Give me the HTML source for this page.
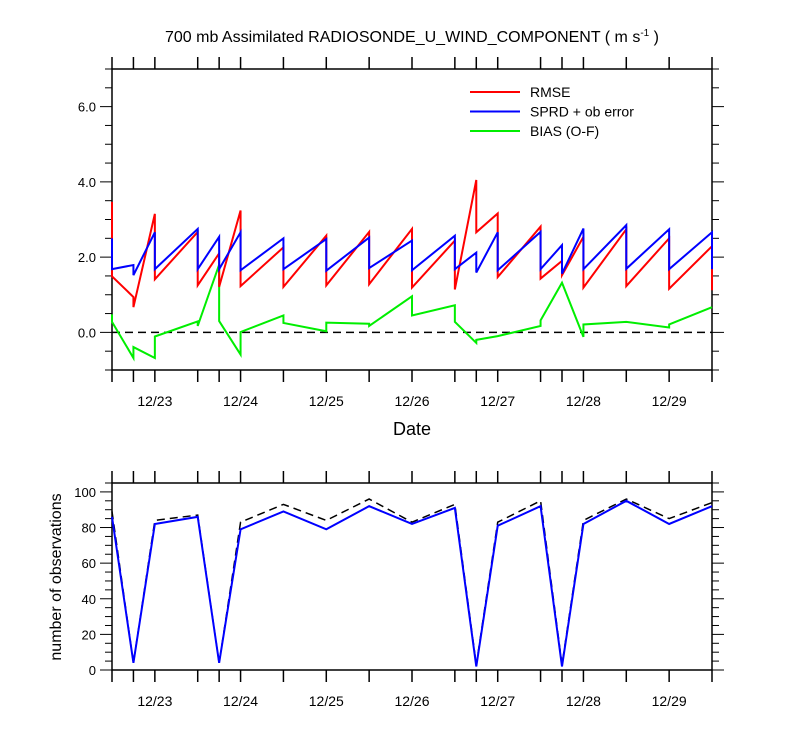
<!DOCTYPE html>
<html><head><meta charset="utf-8"><style>
body{margin:0;background:#fff}
svg{display:block;font-family:"Liberation Sans",sans-serif}
</style></head><body>
<svg id="c" width="800" height="750" xmlns="http://www.w3.org/2000/svg">
<text x="412" y="42" text-anchor="middle" font-size="16">700 mb Assimilated RADIOSONDE_U_WIND_COMPONENT ( m s<tspan font-size="10" dy="-6">-1</tspan><tspan dy="6"> )</tspan></text>
<text x="412" y="435" text-anchor="middle" font-size="18">Date</text>
<text transform="translate(61,577) rotate(-90)" text-anchor="middle" font-size="16">number of observations</text>
<g id="top"></g><g id="bot"></g>
</svg>
<script>
const times=[-0.5,-0.25,0,0.5,0.75,1,1.5,2,2.5,3,3.5,3.75,4,4.5,4.75,5,5.5,6,6.5];
const xLabels=["12/23","12/24","12/25","12/26","12/27","12/28","12/29"];
const rmseEnd=[3.47,0.94,3.15,2.67,2.10,3.24,2.26,2.57,2.67,2.75,2.44,4.05,3.16,2.81,1.90,2.54,2.74,2.50,2.29];
const rmseStart=[1.49,0.67,1.41,1.25,1.21,1.23,1.21,1.25,1.28,1.19,1.14,2.66,1.47,1.43,1.52,1.19,1.23,1.16,1.12];
const sprdEnd=[2.50,1.79,2.66,2.75,2.54,2.66,2.50,2.48,2.52,2.44,2.57,2.12,2.66,2.67,2.32,2.76,2.85,2.74,2.66];
const sprdStart=[1.68,1.52,1.68,1.68,1.68,1.65,1.68,1.64,1.71,1.65,1.68,1.59,1.65,1.68,1.56,1.68,1.69,1.68,1.68];
const biasEnd=[0.48,-0.68,-0.68,0.29,1.80,-0.59,0.45,0.03,0.23,0.96,0.72,-0.28,-0.10,0.17,1.32,-0.12,0.28,0.13,0.67];
const biasStart=[0.28,-0.39,-0.11,0.17,0.30,0.01,0.25,0.26,0.17,0.45,0.28,-0.20,-0.10,0.32,1.32,0.21,0.28,0.21,0.67];
const obsUsed=[86,4,82,86,4,79,89,79,92,82,91,2,81,92,2,82,95,82,92];
const obsTotal=[89,4,84,87,4,83,93,84,96,83,93,3,83,95,3,84,96,85,94];
const yTopTicks=[0,2,4,6];
const yBotTicks=[0,20,40,60,80,100];
const NS="http://www.w3.org/2000/svg";
const L=112,R=712;
const X=t=>L+(t+0.5)/7*(R-L);
const T={top:69,bot:370,min:-1,max:7};
const B={top:483,bot:670,min:0,max:105};
const yT=v=>T.bot-(v-T.min)/(T.max-T.min)*(T.bot-T.top);
const yB=v=>B.bot-(v-B.min)/(B.max-B.min)*(B.bot-B.top);
function mk(p,tag,a){const e=document.createElementNS(NS,tag);for(const k in a)e.setAttribute(k,a[k]);p.appendChild(e);return e;}
function frame(g,P,yf,minor,major,ticks,fmt,name){
  const r=mk(g,'rect',{x:L,y:P.top,width:R-L,height:P.bot-P.top,fill:'none',stroke:'#000','stroke-width':1.5});
  
  
  for(let v=P.min;v<=P.max+1e-9;v+=minor){
    const y=yf(v);const isM=Math.abs(v/major-Math.round(v/major))<1e-6;const len=isM?12:7;
    mk(g,'line',{x1:L-len,x2:L,y1:y,y2:y,stroke:'#000','stroke-width':1});
    mk(g,'line',{x1:R,x2:R+len,y1:y,y2:y,stroke:'#000','stroke-width':1});
  }
  ticks.forEach(v=>{const t=mk(g,'text',{x:L-16,y:yf(v)+5,'text-anchor':'end','font-size':13});t.textContent=fmt(v);
    
    });
  times.forEach(t=>{const x=X(t);
    mk(g,'line',{x1:x,x2:x,y1:P.bot,y2:P.bot+12,stroke:'#000','stroke-width':1.5});
    mk(g,'line',{x1:x,x2:x,y1:P.top-12,y2:P.top,stroke:'#000','stroke-width':1.5});});
  xLabels.forEach((s,i)=>{const t=mk(g,'text',{x:X(i),y:P.bot+36,'text-anchor':'middle','font-size':14});t.textContent=s;
    
    });
}
function saw(g,ends,starts,col,name){
  let d='';times.forEach((t,i)=>{d+=(i?'L':'M')+X(t)+','+yT(ends[i])+'L'+X(t)+','+yT(starts[i]);});
  const p=mk(g,'path',{d:d,fill:'none',stroke:col,'stroke-width':2});
  
  
}
function line(g,vals,col,dash,name){
  const d=vals.map((v,i)=>(i?'L':'M')+X(times[i])+','+yB(v)).join('');
  const a={d:d,fill:'none',stroke:col,'stroke-width':dash?1.5:2};if(dash)a['stroke-dasharray']='8,5';
  const p=mk(g,'path',a);
  
  
}
const gt=document.getElementById('top'),gb=document.getElementById('bot');
frame(gt,T,yT,0.5,2,yTopTicks,v=>v.toFixed(1),'top-plot');
const z=mk(gt,'line',{x1:L,x2:R,y1:yT(0),y2:yT(0),stroke:'#000','stroke-width':1.5,'stroke-dasharray':'8,5'});


saw(gt,biasEnd,biasStart,'#00ee00','bias-line');
saw(gt,rmseEnd,rmseStart,'#ff0000','rmse-line');
saw(gt,sprdEnd,sprdStart,'#0000ff','sprd-line');
[['RMSE','#ff0000'],['SPRD + ob error','#0000ff'],['BIAS (O-F)','#00ee00']].forEach((e,i)=>{
  const g=mk(gt,'g',{});
  
  
  const y=92+i*19.5;
  mk(g,'line',{x1:470,x2:520,y1:y,y2:y,stroke:e[1],'stroke-width':2});
  const t=mk(g,'text',{x:530,y:y+5,'font-size':14});t.textContent=e[0];
});
frame(gb,B,yB,5,20,yBotTicks,v=>String(v),'bottom-plot');
line(gb,obsTotal,'#000',true,'obs-total-line');
line(gb,obsUsed,'#0000ff',false,'obs-used-line');
</script>
</body></html>
